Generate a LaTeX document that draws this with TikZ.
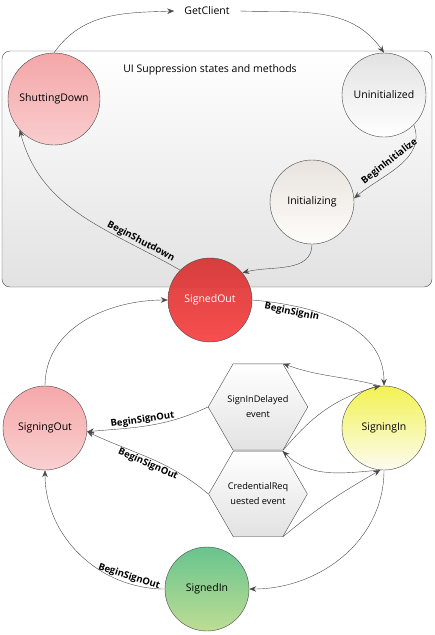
\documentclass[tikz,border=0pt]{standalone}
\usepackage{fontspec}
\setmainfont{Open Sans}
\usetikzlibrary{arrows.meta,shapes.geometric,positioning}

\definecolor{linegray}{HTML}{4A4A4A}
\definecolor{boxgray}{HTML}{E2E2E2}
\definecolor{hexgray}{HTML}{E2E2E2}
\definecolor{shutTop}{HTML}{F4A6A8}
\definecolor{shutBot}{HTML}{F9CDCE}
\definecolor{uninitTop}{HTML}{E2E2E2}
\definecolor{initTop}{HTML}{E8E3DE}
\definecolor{initBot}{HTML}{FFFDFA}
\definecolor{outTop}{HTML}{D63434}
\definecolor{outBot}{HTML}{F74444}
\definecolor{ingTop}{HTML}{F2F252}
\definecolor{ingBot}{HTML}{FCFCF2}
\definecolor{sgoTop}{HTML}{F6A8AA}
\definecolor{sgoBot}{HTML}{F9D0D0}
\definecolor{sinTop}{HTML}{68C48E}
\definecolor{sinBot}{HTML}{BEDD94}

\begin{document}
\begin{tikzpicture}[x=1pt,y=1pt,
  state/.style={circle,draw=linegray,thin,minimum size=84pt,inner sep=0pt,font=\fontsize{10.5}{12}\selectfont},
  event/.style={regular polygon,regular polygon sides=6,minimum size=86pt,inner sep=0pt,draw=linegray,thin,
    top color=white,bottom color=hexgray,align=center,font=\fontsize{9.2}{15}\selectfont},
  trans/.style={draw=linegray,thin,-{Stealth[length=7pt,width=5.5pt]}},
  lbl/.style={font=\bfseries\fontsize{9.5}{11}\selectfont,sloped,inner sep=1.5pt}]
\useasboundingbox (0,0) rectangle (435,-635);

% container
\draw[draw=linegray,rounded corners=8pt,top color=white,bottom color=boxgray] (2,-51) rectangle (432,-287);
\node[font=\fontsize{10.5}{12}\selectfont] (title) at (210,-70) {UI Suppression states and methods};

% states
\node[state,minimum size=92pt,top color=shutTop,bottom color=shutBot] (shuttingdown) at (54,-99) {ShuttingDown};
\node[state,top color=uninitTop,bottom color=white] (uninitialized) at (384,-95) {Uninitialized};
\node[state,top color=initTop,bottom color=initBot] (initializing) at (312,-202) {Initializing};
\node[state,top color=outTop,bottom color=outBot,fill opacity=0.94,text opacity=1,text=white] (signedout) at (210,-300) {SignedOut};
\node[state,top color=ingTop,bottom color=ingBot] (signingin) at (384,-428) {SigningIn};
\node[state,top color=sgoTop,bottom color=sgoBot] (signingout) at (45,-428) {SigningOut};
\node[state,top color=sinTop,bottom color=sinBot] (signedin) at (207,-589) {SignedIn};

% events
\node[event] (delayed) at (258,-407) {SignInDelayed\\event};
\node[event] (credreq) at (258,-494) {CredentialReq\\uested event};

\node[font=\fontsize{10.5}{12}\selectfont,inner xsep=10pt] (getclient) at (207,-11) {GetClient};

% transitions
\draw[trans] (shuttingdown.north) to[out=55,in=182] (getclient.west);
\draw[trans] (getclient.east) to[out=-2,in=125] (uninitialized.north);
\draw[trans] (uninitialized.-45) to[out=-70,in=40] node[lbl,above=3pt,pos=0.55] {BeginInitialize} (initializing.5);
\draw[trans] (initializing.south) to[out=-90,in=15] (signedout.40);
\draw[trans] (signedout.135) to[out=150,in=-75] node[lbl,above,pos=0.2] {BeginShutdown} (shuttingdown.-138);
\draw[trans] (signedout.east) to[out=-5,in=90] node[lbl,below,pos=0.22] {BeginSignIn} (signingin.north);
\draw[trans] (signingout.north) to[out=90,in=180] (signedout.west);
\draw[trans] (signingin.south) to[out=-90,in=0] (signedin.east);
\draw[trans] (signedin.west) to[out=180,in=-90] node[lbl,above,pos=0.2] {BeginSignOut} (signingout.south);
\draw[trans] (delayed.180) to[out=205,in=5] node[lbl,above,pos=0.55] {BeginSignOut} (signingout.-5);
\draw[trans] (credreq.180) to[out=140,in=-25] node[lbl,below,pos=0.5] {BeginSignOut} (signingout.-5);
\draw[trans] (signingin.95) to[out=165,in=-20] (delayed.60);
\draw[trans] (delayed.-60) to[out=50,in=195] (signingin.95);
\draw[trans] (signingin.-95) to[out=185,in=-45] (credreq.60);
\draw[trans] (credreq.-60) to[out=40,in=210] (signingin.-95);
\end{tikzpicture}
\end{document}
